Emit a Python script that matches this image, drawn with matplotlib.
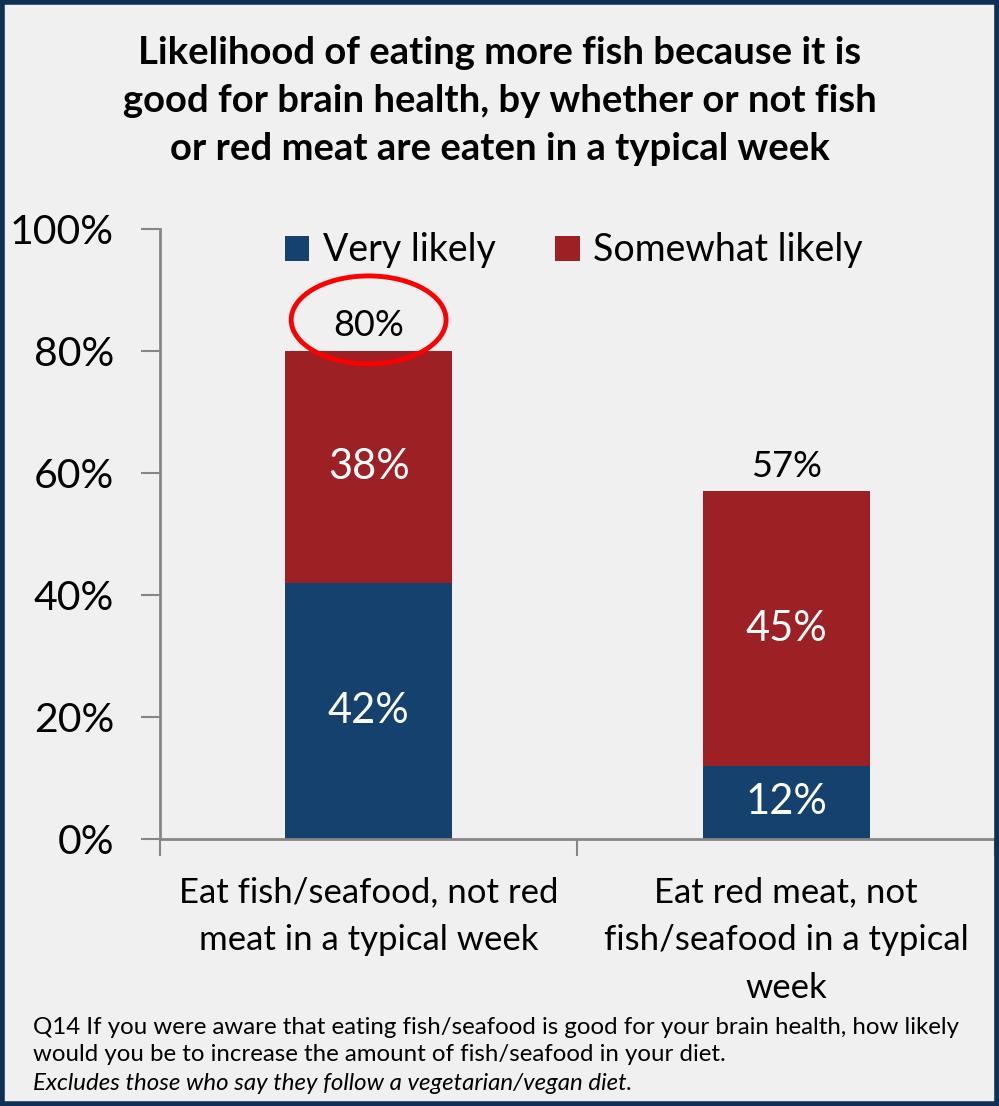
import matplotlib.pyplot as plt
from matplotlib.patches import Ellipse, Rectangle
import numpy as np

plt.rcParams['font.family'] = ['Lato', 'DejaVu Sans']

categories = ['Eat fish/seafood, not red\nmeat in a typical week',
              'Eat red meat, not\nfish/seafood in a typical\nweek']
very_likely = [42, 12]
somewhat_likely = [38, 45]
totals = [80, 57]
yticks = [0, 20, 40, 60, 80, 100]

blue = '#15416F'
red = '#9C2024'
grey = '#868686'
bg = '#F0F0F0'

fig = plt.figure(figsize=(9.99, 11.06), dpi=100, facecolor=bg)
ax = fig.add_axes([0.160, 0.2414, 0.836, 0.5516], facecolor=bg)

x = np.arange(len(categories))
ax.bar(x, very_likely, width=0.4, color=blue, label='Very likely')
ax.bar(x, somewhat_likely, width=0.4, bottom=very_likely, color=red, label='Somewhat likely')

# labels inside segments and totals on top
for xi, v, s, t in zip(x, very_likely, somewhat_likely, totals):
    ax.text(xi, v / 2, '%d%%' % v, ha='center', va='center', color='white', fontsize=30)
    ax.text(xi, v + s / 2, '%d%%' % s, ha='center', va='center', color='white', fontsize=30)
    ax.text(xi, t + 4.1, '%d%%' % t, ha='center', va='center', color='black', fontsize=26)

# red ellipse around the first total
ax.add_patch(Ellipse((x[0], totals[0] + 5.1), 0.371, 14.4, fill=False,
                     edgecolor='#FF0000', lw=3.5, clip_on=False, zorder=5))

ax.set_xlim(-0.5, 1.5)
ax.set_ylim(0, 100)
ax.set_yticks(yticks)
ax.set_yticklabels(['%d%%' % t for t in yticks], fontsize=29.5)
ax.set_xticks([-0.5, 0.5, 1.5], minor=False)
ax.set_xticklabels([])
ax.set_xticks(x, minor=True)
ax.set_xticklabels(categories, minor=True, fontsize=25, linespacing=1.6)
ax.tick_params(axis='x', which='minor', length=0, pad=27)
ax.tick_params(axis='x', which='major', length=12, color=grey, width=1.5)
ax.tick_params(axis='y', length=14, color=grey, width=1.5, pad=19)
for side in ['top', 'right']:
    ax.spines[side].set_visible(False)
for side in ['left', 'bottom']:
    ax.spines[side].set_color(grey)
    ax.spines[side].set_linewidth(2)

leg = ax.legend(loc='center left', bbox_to_anchor=(0.150, 0.965), ncol=2, frameon=False,
                fontsize=27, handlelength=0.65, handleheight=0.65, handletextpad=0.35,
                columnspacing=1.6, borderaxespad=0, borderpad=0)

fig.text(0.5, 0.9087, 'Likelihood of eating more fish because it is\n'
         'good for brain health, by whether or not fish\n'
         'or red meat are eaten in a typical week',
         ha='center', va='center', fontsize=27.5, fontweight='bold', linespacing=1.5)

fig.text(0.033, 0.0714, 'Q14 If you were aware that eating fish/seafood is good for your brain health, how likely',
         ha='left', va='center', fontsize=17.3)
fig.text(0.033, 0.0470, 'would you be to increase the amount of fish/seafood in your diet.',
         ha='left', va='center', fontsize=17.3)
fig.text(0.033, 0.0199, 'Excludes those who say they follow a vegetarian/vegan diet.',
         ha='left', va='center', fontsize=17.3, style='italic')

fig.patches.append(Rectangle((0.002, 0.002), 0.996, 0.996, transform=fig.transFigure,
                             fill=False, edgecolor='#0F2F55', lw=4, figure=fig))

fig.savefig('out.png', dpi=100, facecolor=bg)
